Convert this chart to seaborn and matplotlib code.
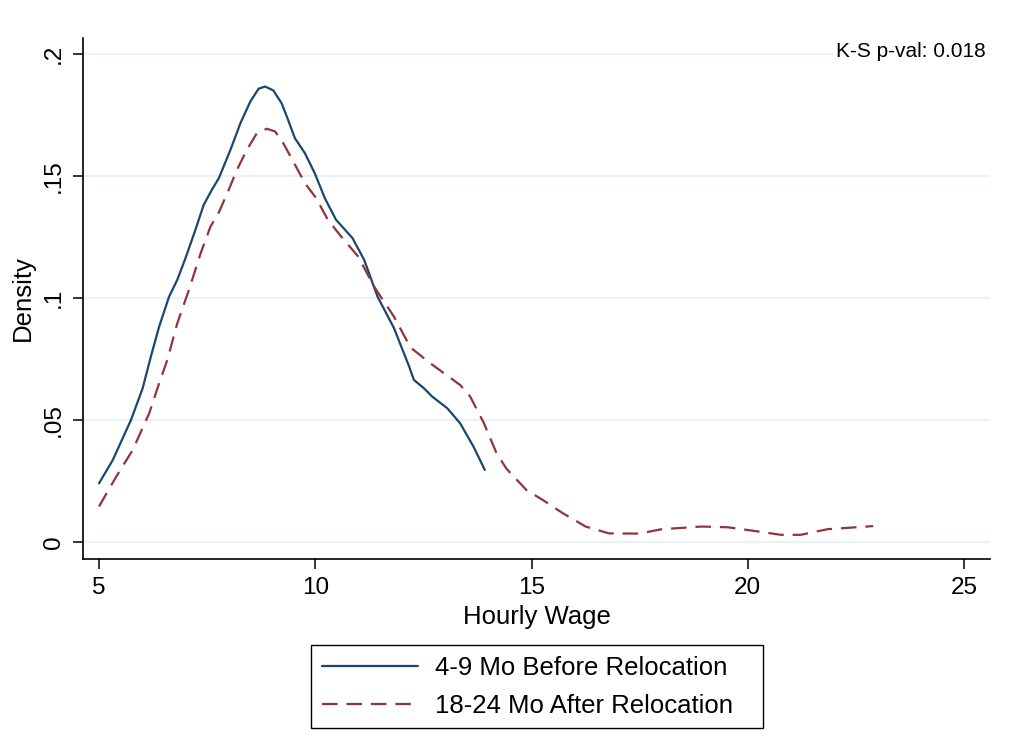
import matplotlib
matplotlib.use("Agg")
import matplotlib.pyplot as plt
from matplotlib.lines import Line2D
from matplotlib.patches import Rectangle
import seaborn as sns
import pandas as pd

# ---- data ----
before_label = "4-9 Mo Before Relocation"
after_label = "18-24 Mo After Relocation"

before_wage = [5.0, 5.32, 5.74, 6.01, 6.20, 6.39, 6.62, 6.81, 7.0, 7.23, 7.42, 7.61, 7.77,
               8.04, 8.27, 8.50, 8.69, 8.84, 9.03, 9.22, 9.37, 9.53, 9.76, 9.99, 10.22,
               10.48, 10.86, 11.13, 11.44, 11.82, 12.17, 12.28, 12.51, 12.70, 13.05, 13.35,
               13.66, 13.92]
before_density = [0.024, 0.0336, 0.050, 0.063, 0.076, 0.0882, 0.1005, 0.1074, 0.1163, 0.1279,
                  0.1381, 0.1443, 0.149, 0.1607, 0.1716, 0.1805, 0.1857, 0.1866, 0.185,
                  0.1798, 0.173, 0.1654, 0.1593, 0.151, 0.1409, 0.132, 0.1245, 0.1156,
                  0.1005, 0.0876, 0.0719, 0.0664, 0.063, 0.0596, 0.0548, 0.0486, 0.039, 0.0295]

after_wage = [5.0, 5.40, 5.78, 6.16, 6.39, 6.58, 6.81, 7.08, 7.35, 7.58, 7.77, 8.0, 8.19,
              8.42, 8.65, 8.88, 9.07, 9.26, 9.49, 9.76, 10.02, 10.29, 10.60, 10.99, 11.36,
              11.82, 12.20, 12.66, 13.35, 13.58, 13.89, 14.19, 14.42, 14.88, 15.26, 15.72,
              16.25, 16.79, 17.48, 18.01, 18.93, 19.54, 20.15, 20.77, 21.22, 21.84, 22.75, 22.9]
after_density = [0.0145, 0.0268, 0.0377, 0.0527, 0.065, 0.0746, 0.0896, 0.1033, 0.1183,
                 0.1293, 0.135, 0.1443, 0.1525, 0.1607, 0.1675, 0.1693, 0.1682, 0.1634,
                 0.1559, 0.147, 0.1409, 0.132, 0.1251, 0.117, 0.1046, 0.0923, 0.0797, 0.0732,
                 0.0643, 0.0596, 0.049, 0.0364, 0.030, 0.0213, 0.0172, 0.0118, 0.0063, 0.0035,
                 0.0034, 0.0052, 0.0063, 0.006, 0.0045, 0.0029, 0.0029, 0.0052, 0.0063, 0.0065]

x_ticks = [5, 10, 15, 20, 25]
y_ticks = [0, 0.05, 0.1, 0.15, 0.2]
y_tick_labels = ["0", ".05", ".1", ".15", ".2"]
ks_text = "K-S p-val: 0.018"

# ---- styling ----
sns.set_theme(style="white")
plt.rcParams["font.family"] = ["Liberation Sans", "DejaVu Sans"]

blue = "#1a476f"
red = "#90353b"
grid_col = "#eaf2f3"
W, H = 1013, 740

df = pd.concat([
    pd.DataFrame({"wage": before_wage, "density": before_density, "group": before_label}),
    pd.DataFrame({"wage": after_wage, "density": after_density, "group": after_label}),
], ignore_index=True)

fig = plt.figure(figsize=(W / 100, H / 100), dpi=100)
ax = fig.add_axes([83 / W, 1 - 559 / H, (990 - 83) / W, (559 - 37.7) / H])

sns.lineplot(data=df, x="wage", y="density", hue="group", style="group",
             palette={before_label: blue, after_label: red},
             dashes={before_label: "", after_label: (7, 4)},
             estimator=None, sort=False, linewidth=1.6, ax=ax, legend=False)
for ln in ax.get_lines():
    ln.set_solid_joinstyle("round")
    ln.set_dash_joinstyle("round")

ax.set_xlim(4.63, 25.6)
ax.set_ylim(-0.007, 0.2066)
ax.set_xticks(x_ticks)
ax.set_xticklabels([str(t) for t in x_ticks])
ax.set_yticks(y_ticks)
ax.set_yticklabels(y_tick_labels, rotation=90, va="center")

for yv in y_ticks:
    ax.axhline(yv, color=grid_col, linewidth=1.5, zorder=0)

for side in ["top", "right"]:
    ax.spines[side].set_visible(False)
for side in ["left", "bottom"]:
    ax.spines[side].set_color("black")
    ax.spines[side].set_linewidth(1.2)

ax.tick_params(axis="both", which="major", direction="out", length=7, width=1.1,
               color="black", labelsize=17.5, labelcolor="black", left=True, bottom=True)
ax.tick_params(axis="x", pad=6)
ax.tick_params(axis="y", pad=6)

ax.set_xlabel("Hourly Wage", fontsize=18.5, color="black", labelpad=4)
ax.set_ylabel("Density", fontsize=18.5, color="black", labelpad=6)

fig.text(985.7 / W, 1 - 51.7 / H, ks_text, ha="right", va="center", fontsize=15,
         color="black", bbox=dict(facecolor="white", edgecolor="none", pad=1))

# legend: entries without frame, frame drawn as a box around them
handles = [Line2D([], [], color=blue, linewidth=1.6),
           Line2D([], [], color=red, linewidth=1.6, dashes=(7, 4))]
leg = fig.legend(handles, [before_label, after_label], loc="center left",
                 bbox_to_anchor=(321.7 / W, 1 - 687.2 / H), bbox_transform=fig.transFigure,
                 fontsize=18.5, frameon=False,
                 handlelength=3.75, handletextpad=0.67, labelspacing=0.55,
                 borderpad=0, borderaxespad=0)
for t in leg.get_texts():
    t.set_color("black")
fig.patches.append(Rectangle((310.7 / W, 1 - 728.3 / H), (763.3 - 310.7) / W, (728.3 - 645) / H,
                             transform=fig.transFigure, fill=False, edgecolor="black",
                             linewidth=1.0, figure=fig))

fig.savefig("out.png", dpi=100, facecolor="white")
